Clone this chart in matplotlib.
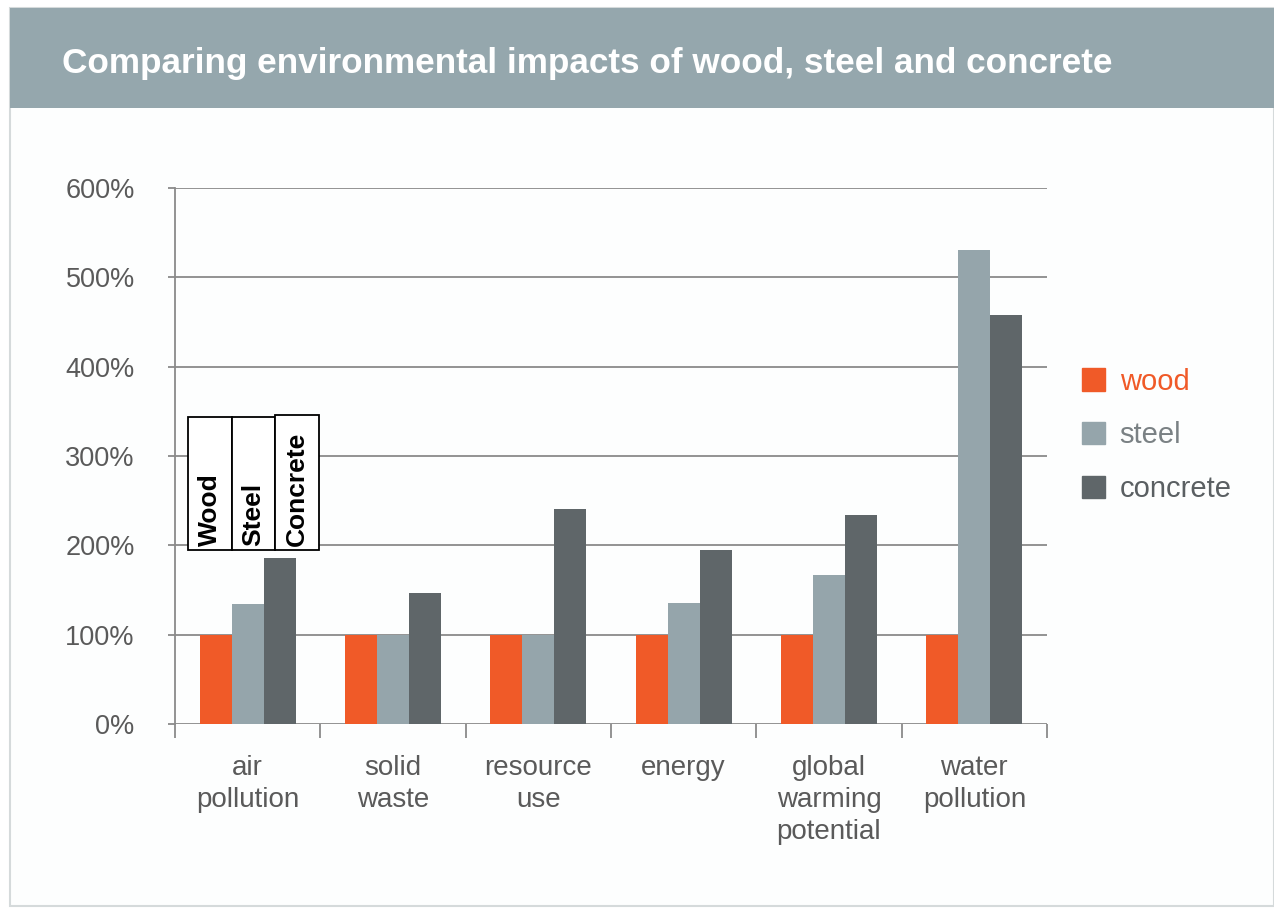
import matplotlib
matplotlib.use("Agg")
import matplotlib.pyplot as plt
from matplotlib.patches import Rectangle
import numpy as np

categories = ["air\npollution", "solid\nwaste", "resource\nuse", "energy", "global\nwarming\npotential", "water\npollution"]
series_names = ["wood", "steel", "concrete"]
wood = [100, 100, 100, 100, 100, 100]
steel = [134, 100, 100, 135, 167, 531]
concrete = [186, 147, 241, 195, 234, 458]
yticks = [0, 100, 200, 300, 400, 500, 600]
colors = ["#f05a28", "#95a5ab", "#5f6669"]
box_labels = ["Wood", "Steel", "Concrete"]

plt.rcParams['font.family'] = ['Liberation Sans', 'DejaVu Sans']

W, H = 1274, 911
fig = plt.figure(figsize=(W/100, H/100), dpi=100)
fig.patch.set_facecolor("white")

# outer frame and header band
fig.patches.append(Rectangle((10/W, 5/H), (W-10)/W, (H-13)/H, transform=fig.transFigure,
                             facecolor="#fdfefe", edgecolor="#d5dadb", lw=1.5, zorder=-3))
fig.patches.append(Rectangle((10/W, 1-108/H), (W-10)/W, 100/H, transform=fig.transFigure,
                             facecolor="#95a7ad", edgecolor="none", zorder=-2))
fig.text(62/W, 1-63/H, "Comparing environmental impacts of wood, steel and concrete",
         color="white", fontsize=25.3, fontweight="bold", va="center", ha="left")

ax = fig.add_axes([175/W, 1-724/H, (1047-175)/W, (724-188)/H])
ax.set_facecolor("none")
ax.set_zorder(1)
n = len(categories)
x = np.arange(n)
bw = 0.22
for i, (vals, c) in enumerate(zip([wood, steel, concrete], colors)):
    ax.bar(x + (i-1)*bw, vals, width=bw, color=c, label=series_names[i], zorder=3)

ax.set_xlim(-0.5, n-0.5)
ax.set_ylim(0, 600)
ax.set_yticks(yticks)
ax.set_yticklabels([f"{v}%" for v in yticks], color="#5a5a5a", fontsize=19.5)
ax.yaxis.grid(True, color="#8a8a8a", lw=1.3, zorder=1)
ax.set_axisbelow(True)
for s in ["top", "right", "bottom"]:
    ax.spines[s].set_visible(False)
ax.spines["left"].set_color("#8a8a8a")
ax.spines["left"].set_linewidth(1.3)
ax.tick_params(axis="y", length=5, color="#8a8a8a", width=1.3, pad=24)
ax.set_xticks(x)
ax.set_xticklabels(categories, color="#5a5a5a", fontsize=20, linespacing=1.3)
ax.tick_params(axis="x", length=0, pad=22)
# group separator ticks
ax.set_xticks(np.arange(n+1) - 0.5, minor=True)
ax.tick_params(axis="x", which="minor", length=10, color="#8a8a8a", width=1.3, direction="out")

# legend
handles = [Rectangle((0, 0), 1, 1, color=c) for c in colors]
leg = fig.legend(handles, series_names, loc="upper left", bbox_to_anchor=(1070/W, 1-356/H),
                 frameon=False, fontsize=21, handlelength=0.8, handleheight=0.8,
                 handletextpad=0.5, labelspacing=0.88, borderaxespad=0)
for t, c in zip(leg.get_texts(), ["#f05a28", "#7a8184", "#5a5f62"]):
    t.set_color(c)

# annotation boxes
boxes = [(188, 232, 417), (232, 275, 417), (275, 319, 415)]
for (x0, x1, y0), lab in zip(boxes, box_labels):
    fig.patches.append(Rectangle((x0/W, 1-550/H), (x1-x0)/W, (550-y0)/H, transform=fig.transFigure,
                                 facecolor="white", edgecolor="black", lw=1.3, zorder=5))
    fig.text((x0+x1)/2/W, 1-546/H, lab, rotation=90, ha="center", va="bottom",
             fontsize=19, fontweight="bold", color="black", zorder=6)

fig.savefig("out.png", dpi=100)
